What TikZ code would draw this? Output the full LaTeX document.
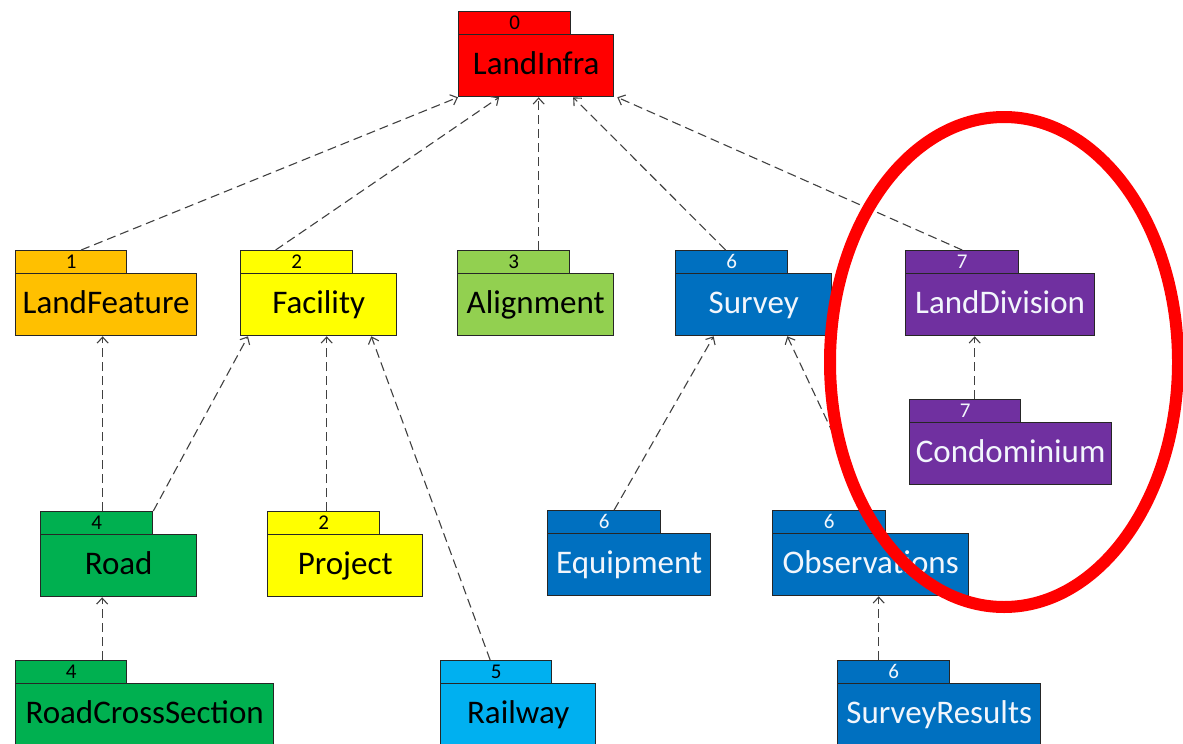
\documentclass[tikz,border=0pt]{standalone}
\usepackage{fontspec}
\setmainfont{Carlito}
\usetikzlibrary{arrows.meta}
\definecolor{cRed}{HTML}{FF0000}
\definecolor{cOrange}{HTML}{FFC000}
\definecolor{cYellow}{HTML}{FFFF00}
\definecolor{cLime}{HTML}{92D050}
\definecolor{cGreen}{HTML}{00B050}
\definecolor{cBlue}{HTML}{0070C0}
\definecolor{cSky}{HTML}{00B0F0}
\definecolor{cPurple}{HTML}{7030A0}
\definecolor{cBorder}{HTML}{262626}
\definecolor{cLine}{HTML}{404040}
\definecolor{cLight}{HTML}{F2F6FC}
\tikzset{
  tabbox/.style={draw=cBorder, line width=1.3pt, anchor=north west, inner sep=0pt,
    minimum height=23pt, text height=14pt, text depth=2pt,
    font=\fontsize{21}{21}\selectfont},
  bodybox/.style={draw=cBorder, line width=1.3pt, anchor=north west, inner sep=0pt,
    minimum height=62pt, text height=23pt, text depth=5pt,
    font=\fontsize{33}{33}\selectfont},
  dep/.style={draw=cLine, line width=1.1pt, dash pattern=on 9pt off 5pt,
    -{Straight Barb[length=6pt,width=11pt,line width=1.1pt]}},
  hilite/.style={draw=cRed, line width=12pt}
}
\newcommand\pkgnode[9]{%
  \node[tabbox, fill=#6, text=#7, minimum width=#4pt] (#1T) at (#2,#3) {#8};
  \node[bodybox, fill=#6, text=#7, minimum width=#5pt] (#1) at (#2,#3+23) {#9};
}
\begin{document}
\begin{tikzpicture}[x=1pt,y=-1pt]
\useasboundingbox (0,0) rectangle (1183,744);
% packages
\pkgnode{li}{458}{11}{112}{155}{cRed}{black}{0}{LandInfra}
\pkgnode{lf}{15}{250}{111}{181}{cOrange}{black}{1}{LandFeature}
\pkgnode{fa}{240}{250}{112}{156}{cYellow}{black}{2}{Facility}
\pkgnode{al}{457}{250}{112}{156}{cLime}{black}{3}{Alignment}
\pkgnode{sv}{675}{250}{112}{156}{cBlue}{cLight}{6}{Survey}
\pkgnode{ld}{905}{250}{113}{189}{cPurple}{cLight}{7}{LandDivision}
\pkgnode{co}{909}{399}{111}{202}{cPurple}{cLight}{7}{Condominium}
\pkgnode{rd}{40}{511}{112}{156}{cGreen}{black}{4}{Road}
\pkgnode{pr}{267}{511}{112}{155}{cYellow}{black}{2}{Project}
\pkgnode{eq}{547}{510}{113}{163}{cBlue}{cLight}{6}{Equipment}
\pkgnode{ob}{772}{510}{113}{196}{cBlue}{cLight}{6}{Observations}
\pkgnode{rc}{15}{660}{111}{258}{cGreen}{black}{4}{RoadCrossSection}
\pkgnode{rw}{440}{660}{111}{155}{cSky}{black}{5}{Railway}
\pkgnode{sr}{837}{660}{112}{203}{cBlue}{cLight}{6}{SurveyResults}
% dependencies
\draw[dep] ([xshift=10pt]lfT.north) -- (li.south west);
\draw[dep] ([xshift=-21pt]faT.north) -- ([xshift=-37pt]li.south);
\draw[dep] ([xshift=25pt]alT.north) -- ([xshift=25pt]alT.north |- li.south);
\draw[dep] ([xshift=-6pt]svT.north) -- ([xshift=37pt]li.south);
\draw[dep] (ldT.north) -- ([xshift=3pt]li.south east);
\draw[dep] ([xshift=6pt]rdT.north) -- ([xshift=6pt]rdT.north |- lf.south);
\draw[dep] (rdT.north east) -- ([xshift=8pt]fa.south west);
\draw[dep] ([xshift=3pt]prT.north) -- ([xshift=3pt]prT.north |- fa.south);
\draw[dep] ([xshift=-6pt]rwT.north) -- ([xshift=-26pt]fa.south east);
\draw[dep] ([xshift=31pt]rcT.north) -- ([xshift=31pt]rcT.north |- rd.south);
\draw[dep] ([xshift=10pt]eqT.north) -- ([xshift=-40pt]sv.south);
\draw[dep] ([xshift=40pt]obT.north) -- ([xshift=-45pt]sv.south east);
\draw[dep] ([xshift=-15pt]srT.north) -- ([xshift=-15pt]srT.north |- ob.south);
\draw[dep] ([xshift=9.5pt]coT.north) -- ([xshift=9.5pt]coT.north |- ld.south);
% highlight
\draw[hilite] (1004,362) ellipse [x radius=174pt, y radius=245pt];
\end{tikzpicture}
\end{document}
